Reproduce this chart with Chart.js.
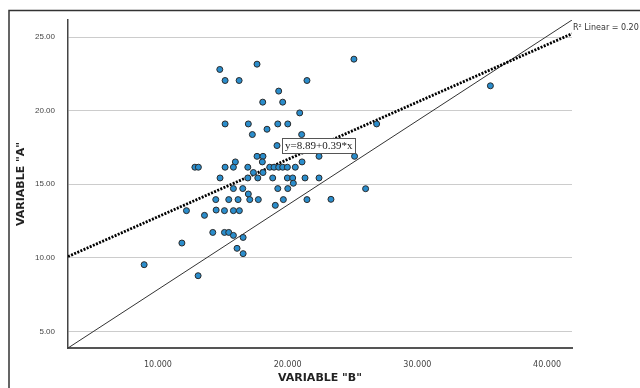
<!DOCTYPE html>
<html>
<head>
<meta charset="utf-8">
<script src="https://cdn.jsdelivr.net/npm/chart.js@4.4.0/dist/chart.umd.min.js"></script>
<style>
html, body { margin: 0; padding: 0; background: #fff; }
#wrap { width: 640px; height: 388px; }
</style>
</head>
<body>
<div id="wrap"><canvas id="scatterChart" width="640" height="388"></canvas></div>
<script>
// VARIABLE "B" (x) and VARIABLE "A" (y)
const varB = [14.77, 15.18, 16.26, 17.64, 21.49, 19.31, 18.08, 19.62, 20.93, 15.18,
    16.97, 19.24, 20.01, 26.86, 17.28, 18.41, 21.08, 19.18, 17.64, 18.10,
    22.42, 25.16, 15.97, 18.05, 21.11, 12.85, 13.12, 15.18, 15.82, 16.93,
    18.62, 18.95, 19.31, 19.62, 19.98, 20.59, 17.36, 18.10, 14.79, 16.93,
    17.70, 18.85, 19.98, 20.39, 21.34, 22.42, 20.44, 15.82, 16.54, 19.24,
    20.01, 26.01, 16.97, 14.46, 15.46, 16.18, 17.08, 17.74, 19.67, 21.49,
    23.34, 19.05, 12.20, 13.59, 14.49, 15.13, 15.82, 16.28, 14.23, 15.13,
    15.46, 15.82, 16.57, 11.85, 16.10, 16.57, 8.94, 13.10, 25.11, 35.63];
const varA = [22.80, 22.05, 22.05, 23.16, 22.05, 21.33, 20.58, 20.58, 19.85, 19.10,
    19.10, 19.10, 19.10, 19.10, 18.38, 18.74, 18.38, 17.63, 16.90, 16.90,
    16.90, 16.90, 16.52, 16.52, 16.52, 16.16, 16.16, 16.16, 16.16, 16.16,
    16.16, 16.16, 16.16, 16.16, 16.16, 16.16, 15.80, 15.80, 15.43, 15.43,
    15.43, 15.43, 15.43, 15.43, 15.43, 15.43, 15.07, 14.71, 14.71, 14.71,
    14.71, 14.70, 14.34, 13.96, 13.96, 13.96, 13.96, 13.96, 13.96, 13.96,
    13.98, 13.57, 13.21, 12.89, 13.25, 13.21, 13.21, 13.21, 11.73, 11.73,
    11.73, 11.53, 11.39, 11.01, 10.65, 10.29, 9.54, 8.79, 23.50, 21.69];

// linear fit (dotted) and the diagonal reference line (solid)
const fitLineX = [3.07, 41.92];
const fitLineY = [10.09, 25.23];
const refLineX = [3.07, 41.92];
const refLineY = [3.88, 26.16];

const xRange = [3.07, 41.92];
const yRange = [3.88, 26.16];
const xTicks = [10, 20, 30, 40];
const yTicks = [5, 10, 15, 20, 25];

const equationLabel = "y=8.89+0.39*x";
const rSquaredLabel = "R\u00B2 Linear = 0.20";

function toPoints(xs, ys) {
    return xs.map((v, i) => ({x: v, y: ys[i]}));
}

const annotPlugin = {
    id: 'annot',
    beforeDraw(chart) {
        const ctx = chart.ctx;
        ctx.save();
        ctx.fillStyle = '#fff';
        ctx.fillRect(0, 0, chart.width, chart.height);
        ctx.strokeStyle = '#333';
        ctx.lineWidth = 1.5;
        ctx.strokeRect(9, 10.5, 700, 500);
        ctx.restore();
    },
    afterDatasetsDraw(chart) {
        const {ctx, chartArea, scales} = chart;
        ctx.save();
        ctx.font = '8px "DejaVu Sans"';
        ctx.fillStyle = '#333';
        ctx.textBaseline = 'alphabetic';
        ctx.fillText(rSquaredLabel, chartArea.right + 1, 30);

        ctx.font = '11px "Liberation Serif"';
        const w = Math.round(ctx.measureText(equationLabel).width + 6);
        const bx = Math.round(scales.x.getPixelForValue(19.57));
        const by = Math.round(scales.y.getPixelForValue(18.15));
        ctx.fillStyle = '#fff';
        ctx.fillRect(bx, by, w, 15);
        ctx.strokeStyle = '#555';
        ctx.lineWidth = 1;
        ctx.strokeRect(bx + 0.5, by + 0.5, w, 15);
        ctx.fillStyle = '#222';
        ctx.textBaseline = 'middle';
        ctx.fillText(equationLabel, bx + 3, by + 8.5);
        ctx.restore();
    }
};

new Chart("scatterChart", {
    type: "scatter",
    data: {
        datasets: [{
            label: "Cases",
            data: toPoints(varB, varA),
            pointRadius: 3,
            pointBackgroundColor: "#2a8dcc",
            pointBorderColor: "#2b2b2b",
            pointBorderWidth: 1
        }, {
            type: "line",
            label: "Linear fit",
            data: toPoints(fitLineX, fitLineY),
            borderColor: "#000",
            borderWidth: 2.8,
            borderDash: [2, 1.4],
            pointRadius: 0,
            fill: false
        }, {
            type: "line",
            label: "Reference",
            data: toPoints(refLineX, refLineY),
            borderColor: "#333",
            borderWidth: 1,
            pointRadius: 0,
            fill: false
        }]
    },
    options: {
        responsive: false,
        animation: false,
        devicePixelRatio: 1,
        layout: {padding: {top: 20, right: 68, left: 0, bottom: 0}},
        plugins: {
            legend: {display: false},
            tooltip: {enabled: false}
        },
        scales: {
            x: {
                type: "linear",
                min: xRange[0],
                max: xRange[1],
                afterFit: s => { s.height = 40; },
                afterBuildTicks: s => { s.ticks = xTicks.map(v => ({value: v})); },
                grid: {display: false},
                border: {display: true, color: "#555", width: 2},
                ticks: {
                    padding: 4,
                    color: "#444",
                    font: {family: "DejaVu Sans", size: 8},
                    callback: v => Number(v).toFixed(3)
                },
                title: {
                    display: true,
                    text: 'VARIABLE "B"',
                    color: "#222",
                    font: {family: "DejaVu Sans", size: 11, weight: "bold"},
                    padding: {top: 0, bottom: 3}
                }
            },
            y: {
                type: "linear",
                min: yRange[0],
                max: yRange[1],
                afterFit: s => { s.width = 68; },
                afterBuildTicks: s => { s.ticks = yTicks.map(v => ({value: v})); },
                grid: {color: "#cccccc", lineWidth: 1, drawTicks: false},
                border: {display: true, color: "#444", width: 1.5},
                ticks: {
                    padding: 13,
                    color: "#444",
                    font: {family: "Liberation Sans", size: 8},
                    callback: v => Number(v).toFixed(2)
                },
                title: {
                    display: true,
                    text: 'VARIABLE "A"',
                    color: "#222",
                    font: {family: "DejaVu Sans", size: 11, weight: "bold"},
                    padding: {top: 15, bottom: 0}
                }
            }
        }
    },
    plugins: [annotPlugin]
});
</script>
</body>
</html>
